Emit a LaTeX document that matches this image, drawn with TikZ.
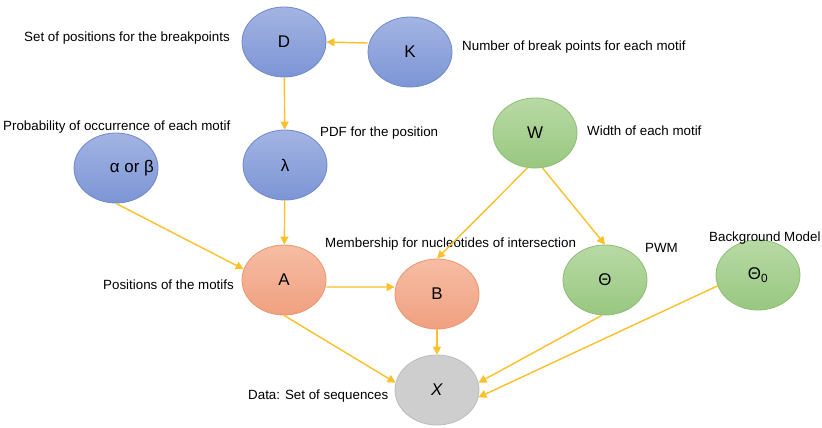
\documentclass[tikz,border=0pt]{standalone}
\usepackage{fontspec}
\setmainfont{Liberation Sans}
\usetikzlibrary{shapes.geometric,arrows.meta}

\definecolor{blueTop}{RGB}{163,180,227}
\definecolor{blueBot}{RGB}{124,149,213}
\definecolor{blueLine}{RGB}{112,137,203}
\definecolor{orTop}{RGB}{246,189,164}
\definecolor{orBot}{RGB}{240,160,128}
\definecolor{orLine}{RGB}{234,150,112}
\definecolor{grTop}{RGB}{184,218,165}
\definecolor{grBot}{RGB}{152,199,128}
\definecolor{grLine}{RGB}{140,190,114}
\definecolor{greyFill}{RGB}{206,206,206}
\definecolor{greyLine}{RGB}{188,188,188}
\definecolor{arrowGold}{RGB}{252,192,40}

\tikzset{
  var/.style={ellipse,minimum width=84bp,minimum height=70bp,inner sep=0pt,
    line width=0.8bp,font=\fontsize{17}{19}\selectfont},
  bluevar/.style={var,draw=blueLine,top color=blueTop,bottom color=blueBot},
  orvar/.style={var,draw=orLine,top color=orTop,bottom color=orBot},
  grvar/.style={var,draw=grLine,top color=grTop,bottom color=grBot},
  greyvar/.style={var,draw=greyLine,fill=greyFill},
  note/.style={anchor=west,inner sep=0pt,font=\fontsize{13.4}{15}\selectfont},
  link/.style={draw=arrowGold,line width=1.4bp,-{Triangle[length=8bp,width=8bp]}}
}

\begin{document}
\begin{tikzpicture}[x=1bp,y=-1bp]
\useasboundingbox (0,0) rectangle (822,427);

% the variables
\node[bluevar] (D) at (284,42) {D};
\node[bluevar] (K) at (410,52) {K};
\node[bluevar] (lam) at (285,165) {λ};
\node[bluevar,label={[font=\fontsize{17}{19}\selectfont,xshift=16bp]center:α or β}] (ab) at (116,168) {};
\node[grvar] (W) at (535,133) {W};
\node[orvar] (A) at (284,280) {A};
\node[orvar] (B) at (437,294) {B};
\node[grvar] (Th) at (605,280) {Θ};
\node[grvar] (Th0) at (758,275) {Θ\textsubscript{0}};
\node[greyvar] (X) at (437,390) {\textit{X}};

% the texts
\node[note] (tD) at (24,38) {Set of positions for the breakpoints};
\node[note] (tK) at (462,47) {Number of break points for each motif};
\node[note] (tab) at (3,127) {Probability of occurrence of each motif};
\node[note] (tlam) at (320,133) {PDF for the position};
\node[note] (tW) at (587,131) {Width of each motif};
\node[note] (tB) at (325,244) {Membership for nucleotides of intersection};
\node[note] (tTh) at (645,248) {PWM};
\node[note] (tTh0) at (709,238) {Background Model};
\node[note] (tA) at (103,285) {Positions of the motifs};
\node[note] (tX) at (248,396) {Data: Set of sequences};

% the links
\draw[link] ([yshift=9bp]K.west) -- (D.east);
\draw[link] (D) -- (lam);
\draw[link] (lam) -- (A);
\draw[link] (ab.south) -- (A.165);
\draw[link] ([yshift=-7bp]A.east) -- ([yshift=7bp]B.west);
\draw[link] (W.258) -- (B.north);
\draw[link] (W.282) -- (Th.north);
\draw[link] (A.south) -- (X.170);
\draw[link] (B) -- (X);
\draw[link] (Th.265) -- (X.10);
\draw[link] (Th0.195) -- (X.350);
\end{tikzpicture}
\end{document}
